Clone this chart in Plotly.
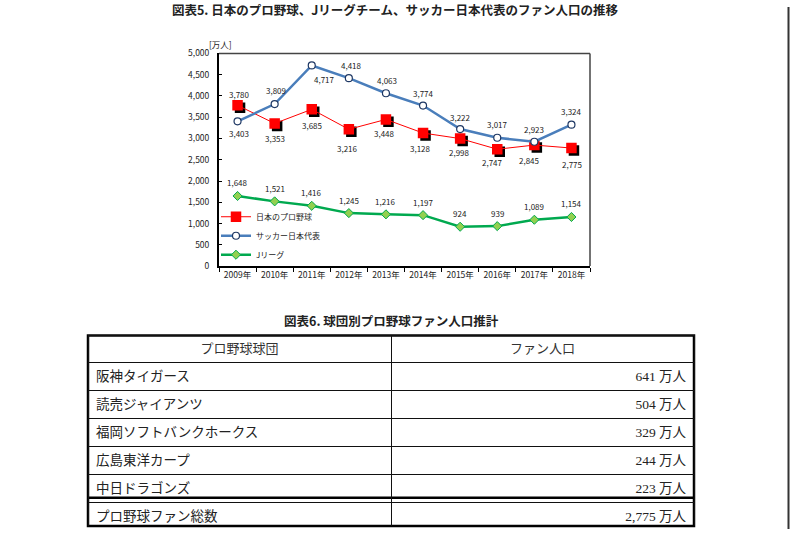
import plotly.graph_objects as go

# ---------------- data ----------------
years = ["2009年", "2010年", "2011年", "2012年", "2013年",
         "2014年", "2015年", "2016年", "2017年", "2018年"]
baseball = [3780, 3353, 3685, 3216, 3448, 3128, 2998, 2747, 2845, 2775]
soccer_jp = [3403, 3809, 4717, 4418, 4063, 3774, 3222, 3017, 2923, 3324]
jleague = [1648, 1521, 1416, 1245, 1216, 1197, 924, 939, 1089, 1154]

series_names = ["日本のプロ野球", "サッカー日本代表", "Jリーグ"]

teams = ["阪神タイガース", "読売ジャイアンツ", "福岡ソフトバンクホークス",
         "広島東洋カープ", "中日ドラゴンズ", "プロ野球ファン総数"]
team_fans = [641, 504, 329, 244, 223, 2775]
table_header = ["プロ野球球団", "ファン人口"]

title5 = "図表5. 日本のプロ野球、Jリーグチーム、サッカー日本代表のファン人口の推移"
title6 = "図表6. 球団別プロ野球ファン人口推計"

# ---------------- styles (label offsets in px) ----------------
bb_shift = [(2, 11), (0, -15), (0, -16), (-1, -19), (-1, -14),
            (-3, -15), (-1, -14), (-5, -13), (-5, -15), (1, -16)]
sc_shift = [(1, -12), (1, 14), (13, -14), (3, 13), (1, 13),
            (0, 12), (0, 12), (0, 13), (0, 12), (0, 13)]
jl_shift = [(0, 13)] * 10

W, H = 790, 534
px = lambda v: v / W
py = lambda v: (H - v) / H

plot_l, plot_r, plot_t, plot_b = 219, 590, 47.5, 265
dom_x = [px(plot_l), px(plot_r)]
dom_y = [py(plot_b), py(plot_t)]
sh = 2.5
dom_x_sh = [px(plot_l + sh), px(plot_r + sh)]
dom_y_sh = [py(plot_b + sh), py(plot_t + sh)]

JP = "Noto Sans CJK JP, Liberation Sans, sans-serif"
SERIF = "Liberation Serif, Noto Sans CJK JP, serif"

fig = go.Figure()

# shadow of baseball markers (lowest subplot, shifted domain)
fig.add_trace(go.Scatter(
    x=years, y=baseball, mode="markers", xaxis="x", yaxis="y",
    marker=dict(symbol="square", size=10.5, color="black"),
    showlegend=False, hoverinfo="skip"))

fig.add_trace(go.Scatter(
    x=years, y=baseball, mode="lines+markers", name=series_names[0],
    xaxis="x2", yaxis="y2",
    line=dict(color="#ff0000", width=1),
    marker=dict(symbol="square", size=10.5, color="#ff0000")))
fig.add_trace(go.Scatter(
    x=years, y=soccer_jp, mode="lines+markers", name=series_names[1],
    xaxis="x2", yaxis="y2",
    line=dict(color="#4a7ebb", width=2.5),
    marker=dict(symbol="circle", size=7, color="white",
                line=dict(color="#1f3864", width=1.2))))
fig.add_trace(go.Scatter(
    x=years, y=jleague, mode="lines+markers", name=series_names[2],
    xaxis="x2", yaxis="y2",
    line=dict(color="#00a94f", width=2.5),
    marker=dict(symbol="diamond", size=7, color="#92d050",
                line=dict(color="#00a94f", width=1))))

# table
fig.add_trace(go.Table(
    domain=dict(x=[px(88), px(694)], y=[py(531), py(336)]),
    columnwidth=[1, 1],
    header=dict(values=table_header, align="center", height=27,
                fill=dict(color="rgba(0,0,0,0)"),
                line=dict(color="#111", width=1),
                font=dict(family=SERIF, size=13, color="#333")),
    cells=dict(values=[teams, [f"{v:,} 万人" for v in team_fans]],
               align=["left", "right"], height=28,
               fill=dict(color="rgba(0,0,0,0)"),
               line=dict(color="#111", width=1),
               font=dict(family=SERIF, size=13.5, color="#222"))))

# data labels
annots = []
for vals, shifts in ((baseball, bb_shift), (soccer_jp, sc_shift), (jleague, jl_shift)):
    for xv, yv, (dx, dy) in zip(years, vals, shifts):
        annots.append(dict(x=xv, y=yv, xref="x2", yref="y2", text=f"{yv:,}",
                           showarrow=False, xshift=dx, yshift=dy,
                           xanchor="center", yanchor="middle",
                           font=dict(family=JP, size=8, color="#222")))

annots += [
    dict(x=px(391), y=py(321), xref="paper", yref="paper", text=f"<b>{title6}</b>",
         xanchor="center", yanchor="middle", showarrow=False,
         font=dict(family=JP, size=12.5, color="#222")),
    dict(x=px(207), y=py(38), xref="paper", yref="paper", text="[万人]",
         xanchor="left", yanchor="middle", showarrow=False,
         font=dict(family=JP, size=8.5, color="#222")),
]

axis_font = dict(family=JP, size=8.5, color="#222")
fig.update_layout(
    width=W, height=H, margin=dict(l=0, r=0, t=0, b=0),
    paper_bgcolor="white", plot_bgcolor="rgba(0,0,0,0)",
    title=dict(text=f"<b>{title5}</b>", x=0.5, xanchor="center",
               y=py(10.5), yanchor="middle", yref="container",
               font=dict(family=JP, size=12.5, color="#222")),
    xaxis=dict(domain=dom_x_sh, anchor="y", type="category", range=[-0.5, 9.5],
               visible=False),
    yaxis=dict(domain=dom_y_sh, anchor="x", range=[0, 5000], visible=False),
    xaxis2=dict(domain=dom_x, anchor="y2", type="category", range=[-0.5, 9.5],
                showline=True, linecolor="black", linewidth=2,
                ticks="outside", tickson="boundaries", ticklen=4,
                tickcolor="black", showgrid=False, tickfont=axis_font),
    yaxis2=dict(domain=dom_y, anchor="x2", range=[0, 5000], dtick=500,
                tickformat=",", showline=True, linecolor="black", linewidth=2,
                showgrid=False, zeroline=False, ticks="inside", ticklen=3,
                tickcolor="black", tickfont=axis_font, ticklabelstandoff=6),
    showlegend=True,
    legend=dict(x=px(216), y=py(234), xanchor="left", yanchor="middle",
                bgcolor="rgba(0,0,0,0)", font=dict(family=JP, size=8, color="#222"),
                tracegroupgap=0, itemwidth=30),
    annotations=annots,
    shapes=[
        # plot frame top/right
        dict(type="line", xref="paper", yref="paper", x0=px(plot_l), x1=px(plot_r),
             y0=py(plot_t), y1=py(plot_t), line=dict(color="#444", width=1.5)),
        dict(type="line", xref="paper", yref="paper", x0=px(plot_r), x1=px(plot_r),
             y0=py(plot_t), y1=py(plot_b), line=dict(color="#444", width=1.5)),
        # table thick borders
        dict(type="rect", xref="paper", yref="paper", x0=px(88), x1=px(694),
             y0=py(531), y1=py(336), line=dict(color="black", width=2.5), layer="below"),
        dict(type="line", xref="paper", yref="paper", x0=px(88), x1=px(694),
             y0=py(502), y1=py(502), line=dict(color="black", width=2.5), layer="below"),
        # page edge line on the right
        dict(type="line", xref="paper", yref="paper", x0=px(788.5), x1=px(788.5),
             y0=0, y1=1, line=dict(color="#333", width=2)),
    ],
)

fig.write_html("out.html", config={"displayModeBar": False},
               post_script="document.body.style.margin='0';document.body.style.overflow='hidden';")
